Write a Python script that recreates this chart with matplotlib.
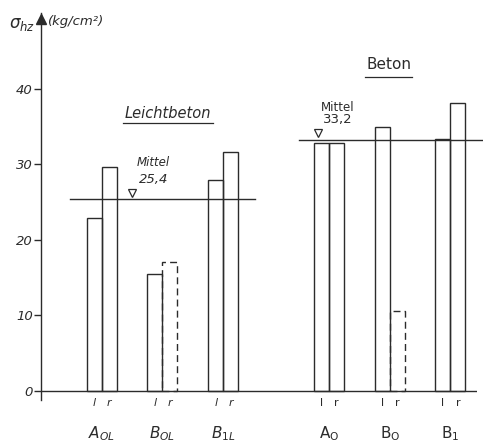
import matplotlib
matplotlib.use("Agg")
import matplotlib.pyplot as plt

# values (kg/cm2)
groups = ["A_OL", "B_OL", "B_1L", "A_O", "B_O", "B_1"]
left_vals = [22.9, 15.5, 27.9, 32.8, 35.0, 33.4]
right_vals = [29.7, 17.1, 31.7, 32.8, 10.6, 38.1]
right_dashed = [False, True, False, False, True, False]
mean_leicht = 25.4
mean_beton = 33.2

# labels under the groups (first three italic, last three upright)
group_labels = [r"$A_{OL}$", r"$B_{OL}$", r"$B_{1L}$",
                r"$\mathrm{A}_{\mathrm{O}}$", r"$\mathrm{B}_{\mathrm{O}}$", r"$\mathrm{B}_{1}$"]
yticks = [0, 10, 20, 30, 40]

# layout (x in bar widths)
centers = [4.05, 8.1, 12.15, 19.2, 23.25, 27.3]
ink = "#2b2b2b"

plt.rcParams["mathtext.fontset"] = "dejavusans"
fig = plt.figure(figsize=(4.83, 4.44), dpi=100)
ax = fig.add_axes([0.0849, 0.0991, 0.9027, 0.8705])
ax.set_xlim(0, 29.07)
ax.set_ylim(-1.2, 50)

for i in range(len(groups)):
    c = centers[i]
    ls = (0, (5, 3)) if right_dashed[i] else "-"
    ax.bar(c + 0.5, right_vals[i], width=1, fill=False, edgecolor=ink, linewidth=1.0, linestyle=ls)
for i in range(len(groups)):
    ax.bar(centers[i] - 0.5, left_vals[i], width=1, fill=False, edgecolor=ink, linewidth=1.0)

# mean lines
ax.plot([1.93, 14.27], [mean_leicht, mean_leicht], color=ink, lw=1.0)
ax.plot([17.2, 29.6], [mean_beton, mean_beton], color=ink, lw=1.0, clip_on=False)
ax.plot([6.05], [mean_leicht + 0.8], marker="v", ms=6, mfc="white", mec=ink, mew=0.9)
ax.plot([18.45], [mean_beton + 1.0], marker="v", ms=6, mfc="white", mec=ink, mew=0.9)

ax.text(7.5, 30.2, "Mittel", ha="center", va="center", fontsize=8.5, style="italic", color=ink)
ax.text(7.5, 27.95, str(mean_leicht).replace(".", ","), ha="center", va="center",
        fontsize=9.5, style="italic", color=ink)
ax.text(19.77, 37.6, "Mittel", ha="center", va="center", fontsize=8.5, color=ink)
ax.text(19.8, 35.9, str(mean_beton).replace(".", ","), ha="center", va="center", fontsize=9.5, color=ink)

# section titles with underline
ax.text(8.47, 36.8, "Leichtbeton", ha="center", va="center", fontsize=10.5, style="italic", color=ink)
ax.plot([5.5, 11.45], [35.5, 35.5], color=ink, lw=0.9)
ax.text(23.17, 43.2, "Beton", ha="center", va="center", fontsize=11, color=ink)
ax.plot([21.6, 24.75], [41.6, 41.6], color=ink, lw=0.9)

# axes
for s in ["top", "right", "bottom"]:
    ax.spines[s].set_visible(False)
ax.spines["left"].set_color(ink)
ax.spines["left"].set_linewidth(1.0)
ax.axhline(0, color=ink, lw=1.0)
ax.plot([0], [49.3], marker="^", ms=7, color=ink, clip_on=False)
ax.set_xticks([])
ax.set_yticks(yticks)
ax.set_yticklabels([str(t) for t in yticks], fontsize=9.5, style="italic", color=ink)
ax.tick_params(axis="y", length=5, width=1.0, color=ink, pad=1)

for i, c in enumerate(centers):
    sty = "italic" if i < 3 else "normal"
    ax.text(c - 0.5, -1.6, "l", ha="center", va="center", fontsize=8, style=sty, color=ink, clip_on=False)
    ax.text(c + 0.5, -1.6, "r", ha="center", va="center", fontsize=8, style=sty, color=ink, clip_on=False)
    ax.text(c, -5.6, group_labels[i], ha="center", va="center", fontsize=11, color=ink, clip_on=False)

fig.text(0.045, 0.947, r"$\sigma_{hz}$", ha="center", va="center", fontsize=12, color=ink)
fig.text(0.10, 0.952, "(kg/cm²)", ha="left", va="center", fontsize=9.5, style="italic", color=ink)

fig.savefig("out.png", dpi=100)
